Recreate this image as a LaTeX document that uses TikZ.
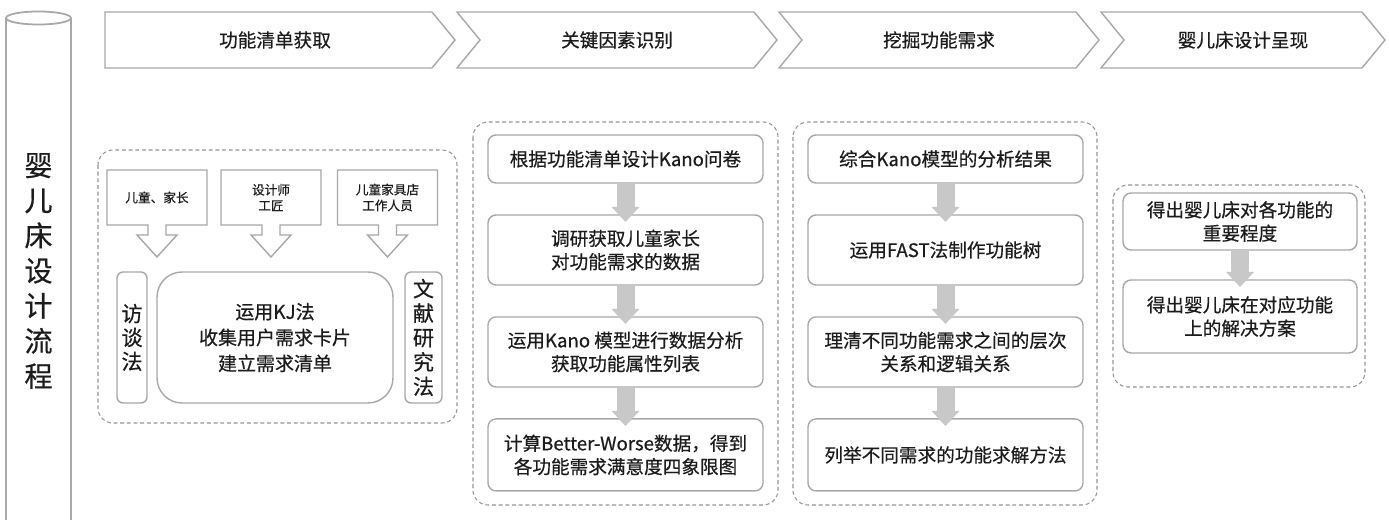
\documentclass[tikz,border=0pt]{standalone}
\usepackage{fontspec}
\setmainfont{Noto Sans CJK SC}[UprightFeatures={FakeBold=0.5}]
\usepackage{xcolor}
\usepackage{tikz}
\usetikzlibrary{calc}
\usetikzlibrary{positioning}
\usetikzlibrary{arrows.meta}

\definecolor{linegray}{RGB}{168,168,168}
\definecolor{dashgray}{RGB}{150,150,150}
\definecolor{arrowgray}{RGB}{200,200,200}
\definecolor{inkblack}{RGB}{28,28,28}

% outline of a box with a hollow arrow below it
\newcommand{\dropframe}[1]{%
  \draw[frame] (#1.north west) -- (#1.north east) -- (#1.south east)
    -- ($(#1.south)+(9,0)$) -- ($(#1.south)+(9,10)$) -- ($(#1.south)+(20,10)$)
    -- ($(#1.south)+(0,32)$) -- ($(#1.south)+(-20,10)$) -- ($(#1.south)+(-9,10)$)
    -- ($(#1.south)+(-9,0)$) -- (#1.south west) -- cycle;}

\begin{document}
\begin{tikzpicture}[x=0.02cm,y=-0.02cm,text=inkblack,node distance=0.64cm,
  font=\fontsize{10.6}{13.3}\selectfont]
	\tikzstyle{frame}=[draw=linegray, line width=0.8pt, line join=miter]
	\tikzstyle{phase}=[draw=linegray, line width=0.8pt, fill=white]
	\tikzstyle{card}=[draw=linegray, line width=0.8pt, fill=white, rounded corners=0.16cm, align=center, minimum width=5.5cm, inner sep=1pt, outer sep=0pt]
	\tikzstyle{group}=[draw=dashgray, line width=0.6pt, dash pattern=on 2.2pt off 1.6pt, rounded corners=0.3cm]
	\tikzstyle{flow}=[arrowgray, line width=0.36cm, -{Triangle[length=0.3cm,width=0.54cm]}, shorten >=-0.14cm]
	\tikzstyle{source}=[align=center, minimum width=2cm, minimum height=1.1cm, inner sep=0pt, outer sep=0pt, font=\fontsize{7.2}{9}\selectfont]
	\useasboundingbox (0,0) rectangle (1389,520);
	\fill[white] (0,0) rectangle (1389,520);

	% cylinder on the left
	\draw[frame, line width=1pt] (6,18) -- (6,525);
	\draw[frame, line width=1pt] (71,18) -- (71,525);
	\draw[frame, line width=1pt, fill=white] (38.5,18) ellipse [x radius=32.5, y radius=6.5];
	\node[align=center, font=\fontsize{16}{20}\selectfont] (title) at (38.5,271) {婴\\儿\\床\\设\\计\\流\\程};

	% phases
	\draw[phase] (105,12) -- (432,12) -- (455,40) -- (432,68) -- (105,68) -- cycle;
	\draw[phase] (457,12) -- (754,12) -- (777,40) -- (754,68) -- (457,68) -- (480,40) -- cycle;
	\draw[phase] (779,12) -- (1076,12) -- (1099,40) -- (1076,68) -- (779,68) -- (802,40) -- cycle;
	\draw[phase] (1101,12) -- (1362,12) -- (1385,40) -- (1362,68) -- (1101,68) -- (1124,40) -- cycle;
	\node (p1) at (275,40) {功能清单获取};
	\node (p2) at (617,40) {关键因素识别};
	\node (p3) at (939,40) {挖掘功能需求};
	\node (p4) at (1243,40) {婴儿床设计呈现};

	% stage 1
	\draw[group] (98,150) rectangle (457,423);
	\node[source] (u1) at (157,197.5) {儿童、家长};
	\node[source] (u2) at (271,197.5) {设计师\\工匠};
	\node[source] (u3) at (387.5,197.5) {儿童家具店\\工作人员};
	\dropframe{u1}
	\dropframe{u2}
	\dropframe{u3}
	\node[card, minimum width=0.6cm, minimum height=2.62cm, rounded corners=0.12cm, font=\fontsize{12}{13.6}\selectfont] (m1) at (132,337.5) {访\\谈\\法};
	\node[card, minimum width=4.72cm, minimum height=2.62cm, rounded corners=0.5cm, font=\fontsize{10.8}{14.7}\selectfont] (m2) at (275,337.5) {运用KJ法\\收集用户需求卡片\\建立需求清单};
	\node[card, minimum width=0.74cm, minimum height=2.62cm, rounded corners=0.12cm, font=\fontsize{12}{13.9}\selectfont] (m3) at (423.5,337.5) {文\\献\\研\\究\\法};

	% stage 2
	\draw[group] (473,122) rectangle (778,505);
	\node[card, minimum height=0.96cm] (k1) at (625.5,159) {根据功能清单设计Kano问卷};
	\node[card, minimum height=1.4cm, below=of k1] (k2) {调研获取儿童家长\\对功能需求的数据};
	\node[card, minimum height=1.4cm, below=of k2] (k3) {运用Kano 模型进行数据分析\\获取功能属性列表};
	\node[card, minimum height=1.44cm, below=of k3] (k4) {计算Better-Worse数据，得到\\各功能需求满意度四象限图};
	\draw[flow] (k1) -- (k2);
	\draw[flow] (k2) -- (k3);
	\draw[flow] (k3) -- (k4);

	% stage 3
	\draw[group] (793,122) rectangle (1097,505);
	\node[card, minimum height=0.96cm] (f1) at (945.5,159) {综合Kano模型的分析结果};
	\node[card, minimum height=1.4cm, below=of f1] (f2) {运用FAST法制作功能树};
	\node[card, minimum height=1.4cm, below=of f2] (f3) {理清不同功能需求之间的层次\\关系和逻辑关系};
	\node[card, minimum height=1.44cm, below=of f3] (f4) {列举不同需求的功能求解方法};
	\draw[flow] (f1) -- (f2);
	\draw[flow] (f2) -- (f3);
	\draw[flow] (f3) -- (f4);

	% stage 4
	\draw[group] (1113,185) rectangle (1365,387);
	\node[card, minimum width=4.68cm, minimum height=1.14cm] (c1) at (1240,221.5) {得出婴儿床对各功能的\\重要程度};
	\node[card, minimum width=4.68cm, minimum height=1.46cm, below=0.6cm of c1] (c2) {得出婴儿床在对应功能\\上的解决方案};
	\draw[flow] (c1) -- (c2);
\end{tikzpicture}
\end{document}
